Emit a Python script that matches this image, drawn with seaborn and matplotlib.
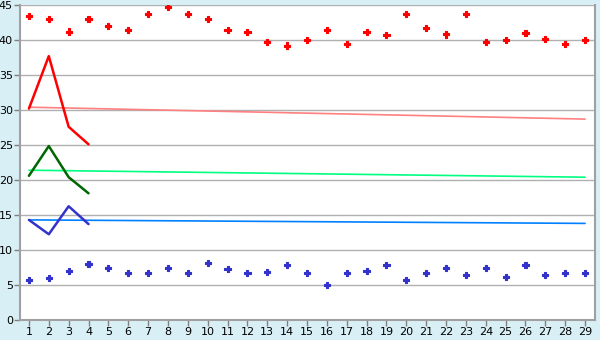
import matplotlib
matplotlib.use("Agg")
import matplotlib.pyplot as plt
import seaborn as sns
import pandas as pd
import numpy as np

days = list(range(1, 30))
red_points = [43.4, 42.95, 41.2, 42.95, 41.95, 41.4, 43.7, 44.7, 43.7,
              42.95, 41.4, 41.1, 39.7, 39.2, 39.95, 41.4, 39.4, 41.1, 40.7,
              43.7, 41.7, 40.8, 43.7, 39.7, 39.95, 40.95, 40.1, 39.4, 39.95]
blue_points = [5.67, 5.95, 6.95, 7.95, 7.38, 6.67, 6.67, 7.38, 6.67,
               8.1, 7.24, 6.67, 6.81, 7.81, 6.67, 4.95, 6.67, 6.95, 7.81,
               5.67, 6.67, 7.38, 6.38, 7.38, 6.1, 7.81, 6.38, 6.67, 6.67]

line_days = [1, 2, 3, 4]
red_line = [30.2, 37.7, 27.6, 25.1]
green_line = [20.6, 24.85, 20.4, 18.1]
blue_line = [14.3, 12.25, 16.25, 13.7]

trend_days = [1, 29]
red_trend = [30.4, 28.7]
green_trend = [21.4, 20.4]
blue_trend = [14.3, 13.8]

y_ticks = list(range(0, 50, 5))

sns.set_theme(style="white")
plt.rcParams['font.family'] = ['DejaVu Sans']

bg = '#d9eff6'
fig = plt.figure(figsize=(6, 3.4), dpi=100, facecolor=bg)
ax = fig.add_axes([20/600, 20/340, 575/600, 315/340])
ax.set_facecolor('white')

grid_c = '#b0b0b0'
for v in y_ticks:
    ax.axhline(v, color=grid_c, lw=1, zorder=0)

trend_df = pd.DataFrame({'x': trend_days * 3,
                         'y': red_trend + green_trend + blue_trend,
                         's': ['r'] * 2 + ['g'] * 2 + ['b'] * 2})
sns.lineplot(data=trend_df, x='x', y='y', hue='s',
             palette={'r': '#ff8080', 'g': '#00ff80', 'b': '#0080ff'},
             linewidth=1.2, legend=False, ax=ax, zorder=2)

line_df = pd.DataFrame({'x': line_days * 3,
                        'y': red_line + green_line + blue_line,
                        's': ['r'] * 4 + ['g'] * 4 + ['b'] * 4})
sns.lineplot(data=line_df, x='x', y='y', hue='s',
             palette={'r': '#ff0000', 'g': '#006600', 'b': '#3333cc'},
             linewidth=1.8, legend=False, ax=ax, zorder=3)

pts_df = pd.DataFrame({'x': days * 2,
                       'y': red_points + blue_points,
                       's': ['r'] * 29 + ['b'] * 29})
sns.scatterplot(data=pts_df, x='x', y='y', hue='s',
                palette={'r': '#ff0000', 'b': '#3333cc'},
                marker='P', s=20, linewidth=0.8, edgecolor='face',
                legend=False, ax=ax, zorder=4)

ax.set_xlim(0.55, 29.5)
ax.set_ylim(0, 45)
ax.set_xticks(days)
ax.set_xticklabels([str(d) for d in days])
ax.set_yticks(y_ticks)
ax.set_xlabel('')
ax.set_ylabel('')
ax.tick_params(axis='both', labelsize=8, colors='black', length=4, width=1,
               pad=1, direction='out', color='#808080')
ax.tick_params(axis='both', bottom=True, left=True)
for side in ['left', 'bottom', 'right']:
    ax.spines[side].set_visible(True)
    ax.spines[side].set_color('#a0a0a0')
    ax.spines[side].set_linewidth(1.5)
ax.spines['top'].set_visible(False)

fig.savefig('out.png', dpi=100, facecolor=bg)
